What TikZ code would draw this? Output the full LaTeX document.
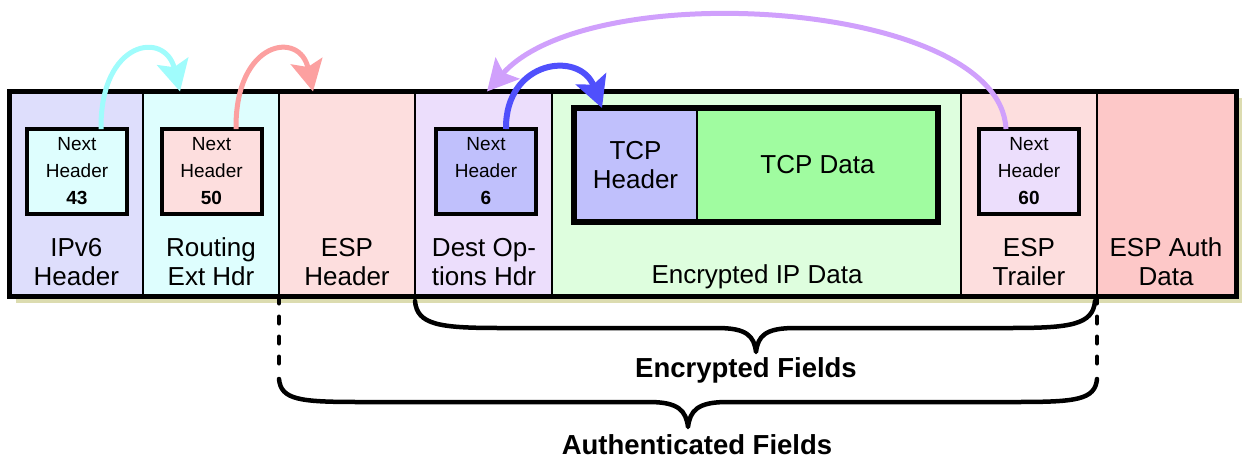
\documentclass[tikz,border=0pt]{standalone}
\usepackage{fontspec}
\setmainfont{Liberation Sans}
\usetikzlibrary{arrows.meta,backgrounds}
\definecolor{cIPv}{HTML}{DEDEFC}
\definecolor{cRout}{HTML}{DEFEFE}
\definecolor{cEsp}{HTML}{FDDEDE}
\definecolor{cDest}{HTML}{ECDEFC}
\definecolor{cEnc}{HTML}{DEFEDE}
\definecolor{cAuth}{HTML}{FDC8C8}
\definecolor{cTcpH}{HTML}{C0C0FC}
\definecolor{cTcpD}{HTML}{A0FCA0}
\definecolor{aCyan}{HTML}{A0FCFC}
\definecolor{aPink}{HTML}{FCA0A0}
\definecolor{aBlue}{HTML}{5050FC}
\definecolor{aPurp}{HTML}{D0A0FC}
\definecolor{cShadow}{HTML}{DCDCB0}
\tikzset{
  col/.style={draw, line width=2pt, inner sep=0pt, outer sep=0pt, minimum height=205pt, anchor=north west},
  nhbox/.style={draw, line width=4pt, inner sep=0pt, outer sep=0pt, minimum width=100pt, minimum height=85pt, align=center, font=\fontsize{19}{27}\selectfont},
  lbl/.style={align=center, inner sep=0pt, font=\fontsize{26}{29}\selectfont},
  tcpbox/.style={draw, line width=1.5pt, inner sep=0pt, outer sep=0pt, minimum height=114pt, anchor=north west, align=center, font=\fontsize{26}{29}\selectfont},
  bend arrow/.style={line width=#1, -{Stealth[length=31pt,width=32pt,inset=6pt]}},
  dotline/.style={line width=4pt, line cap=round, dash pattern=on 7pt off 13pt},
  brace/.style={line width=4.5pt, line cap=round, line join=round},
  fieldlbl/.style={inner sep=0pt, font=\fontsize{27.5}{31}\selectfont\bfseries}
}
\begin{document}
\begin{tikzpicture}[x=1pt,y=-1pt]
\useasboundingbox (0,0) rectangle (1243,461);
% columns
\node[col, fill=cIPv, minimum width=133.5pt] (ipv6) at (9.5,91.5) {};
\node[col, fill=cRout, minimum width=136pt] (rout) at (ipv6.north east) {};
\node[col, fill=cEsp, minimum width=136pt] (esph) at (rout.north east) {};
\node[col, fill=cDest, minimum width=137pt] (dest) at (esph.north east) {};
\node[col, fill=cEnc, minimum width=409pt] (enc) at (dest.north east) {};
\node[col, fill=cEsp, minimum width=136pt] (trail) at (enc.north east) {};
\node[col, fill=cAuth, minimum width=139pt] (auth) at (trail.north east) {};
\begin{scope}[on background layer]
  \fill[cShadow] ([shift={(6pt,-6pt)}]ipv6.north west) rectangle ([shift={(6pt,-6pt)}]auth.south east);
\end{scope}
\draw[line width=5pt] (ipv6.north west) rectangle (auth.south east);
% next header boxes
\node[nhbox, fill=cRout] (nh1) at (77,171.5) {Next\\Header\\\textbf{43}};
\node[nhbox, fill=cEsp] (nh2) at (211.5,171.5) {Next\\Header\\\textbf{50}};
\node[nhbox, fill=cTcpH] (nh3) at (486,171.5) {Next\\Header\\\textbf{6}};
\node[nhbox, fill=cDest] (nh4) at (1029,171.5) {Next\\Header\\\textbf{60}};
% TCP segment
\node[tcpbox, fill=cTcpH, minimum width=123pt] (tcph) at (574,108) {TCP\\Header};
\node[tcpbox, fill=cTcpD, minimum width=241pt] (tcpd) at (tcph.north east) {TCP Data};
\draw[line width=6pt] (tcph.north west) rectangle (tcpd.south east);
% column labels
\node[lbl] (l1) at (76.3,262) {IPv6\\Header};
\node[lbl] (l2) at (211,262) {Routing\\Ext Hdr};
\node[lbl] (l3) at (347,262) {ESP\\Header};
\node[lbl] (l4) at (484,262) {Dest Op-\\tions Hdr};
\node[lbl] (l5) at (757,276.5) {Encrypted IP Data};
\node[lbl] (l6) at (1029,262) {ESP\\Trailer};
\node[lbl] (l7) at (1166,262) {ESP Auth\\Data};
% next header arrows
\draw[bend arrow=5pt, aCyan] ([xshift=24pt]nh1.north) .. controls (100,40) and (165,30) .. ([xshift=-31pt]rout.north);
\draw[bend arrow=5pt, aPink] ([xshift=24.5pt]nh2.north) .. controls (235,40) and (300,30) .. ([xshift=-34pt]esph.north);
\draw[bend arrow=6pt, aBlue] ([xshift=20pt]nh3.north) .. controls (505,60) and (580,50) .. ([xshift=28pt]tcph.north west);
\draw[bend arrow=5pt, aPurp] ([xshift=-23pt]nh4.north) .. controls (1000,0) and (590,-25) .. ([xshift=3.5pt]dest.north);
% field braces
\coordinate (aL) at (279,368);
\coordinate (aR) at (1097,368);
\draw[dotline] (esph.south west) -- (aL);
\draw[dotline] (trail.south east) -- (aR);
\coordinate (eL) at (415,301);
\coordinate (eR) at (1095,301);
\coordinate (eTip) at (756,352);
\draw[brace] (eL) .. controls (417,325) and (440,328) .. (500,328) -- (717,328)
  .. controls (747,328) and (754,336) .. (eTip)
  .. controls (758,336) and (765,328) .. (795,328) -- (1010,328)
  .. controls (1070,328) and (1093,325) .. (eR);
\coordinate (bL) at (279,379);
\coordinate (bR) at (1097,379);
\coordinate (bTip) at (688,427);
\draw[brace] (bL) .. controls (281,400) and (300,402) .. (360,402) -- (649,402)
  .. controls (679,402) and (686,411) .. (bTip)
  .. controls (690,411) and (697,402) .. (727,402) -- (1016,402)
  .. controls (1076,402) and (1095,400) .. (bR);
\node[fieldlbl] (encf) at (746,370) {Encrypted Fields};
\node[fieldlbl] (authf) at (697,445) {Authenticated Fields};
\end{tikzpicture}
\end{document}
